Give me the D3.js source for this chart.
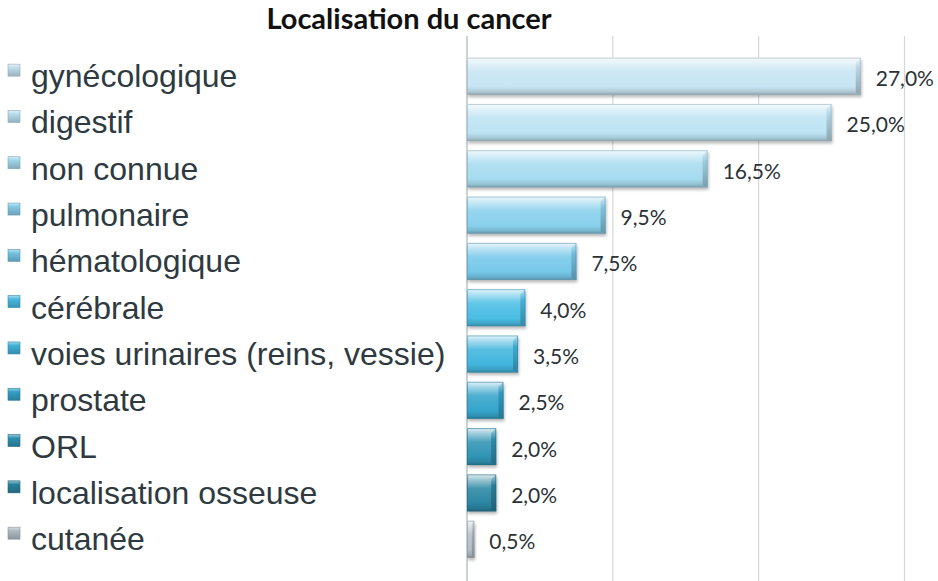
<!DOCTYPE html>
<html>
<head>
<meta charset="utf-8">
<script src="https://cdn.jsdelivr.net/npm/d3@7"></script>
<style>
  html, body { margin: 0; padding: 0; background: #ffffff; }
  svg { display: block; }
</style>
</head>
<body>
<svg id="chart" width="938" height="581"></svg>
<script>
const title = "Localisation du cancer";
const categories = [
  "gynécologique", "digestif", "non connue", "pulmonaire", "hématologique",
  "cérébrale", "voies urinaires (reins, vessie)", "prostate", "ORL",
  "localisation osseuse", "cutanée"
];
const values = [27.0, 25.0, 16.5, 9.5, 7.5, 4.0, 3.5, 2.5, 2.0, 2.0, 0.5];
const colors = [
  "#c6e5f2", "#bde3f3", "#a6dbf0", "#89d0ec", "#77c8e9",
  "#4bbde4", "#42b5de", "#35a4cb", "#3094b5", "#2b86a3", "#b4c0c8"
];
const xTicks = [0, 10, 20, 30];

const svg = d3.select("#chart");
const W = 938, H = 581;

const x = d3.scaleLinear().domain([0, 30]).range([467, 904.5]);
const y = d3.scaleBand().domain(categories).range([53, 562.3]).paddingInner(0.2).paddingOuter(0.1);
const fmt = v => d3.format(".1f")(v).replace(".", ",") + "%";

const defs = svg.append("defs");
const blur = defs.append("filter").attr("id", "shadow").attr("x", "-10%").attr("y", "-20%").attr("width", "130%").attr("height", "160%");
blur.append("feGaussianBlur").attr("stdDeviation", 1.6);

const mix = (a, b, t) => d3.interpolateRgb(a, b)(t);
categories.forEach((c, i) => {
  const base = d3.color(colors[i]);
  const g = defs.append("linearGradient").attr("id", "grad" + i)
    .attr("x1", 0).attr("y1", 0).attr("x2", 0).attr("y2", 1);
  g.append("stop").attr("offset", "0").attr("stop-color", mix(base, "#ffffff", 0.85));
  g.append("stop").attr("offset", "0.14").attr("stop-color", mix(base, "#ffffff", 0.55));
  g.append("stop").attr("offset", "0.38").attr("stop-color", mix(base, "#ffffff", 0.12));
  g.append("stop").attr("offset", "0.78").attr("stop-color", base.formatHex());
  g.append("stop").attr("offset", "0.92").attr("stop-color", base.darker(0.35).formatHex());
  g.append("stop").attr("offset", "1").attr("stop-color", base.darker(0.9).formatHex());
  const gr = defs.append("linearGradient").attr("id", "gradR" + i)
    .attr("x1", 0).attr("y1", 0).attr("x2", 0).attr("y2", 1);
  gr.append("stop").attr("offset", "0").attr("stop-color", mix(base, "#ffffff", 0.6));
  gr.append("stop").attr("offset", "0.3").attr("stop-color", base.darker(0.2).formatHex());
  gr.append("stop").attr("offset", "1").attr("stop-color", base.darker(0.9).formatHex());
  const gs = defs.append("linearGradient").attr("id", "gradS" + i)
    .attr("x1", 0).attr("y1", 0).attr("x2", 0).attr("y2", 1);
  gs.append("stop").attr("offset", "0").attr("stop-color", mix(base, "#ffffff", 0.5));
  gs.append("stop").attr("offset", "0.3").attr("stop-color", base.darker(0.1).formatHex());
  gs.append("stop").attr("offset", "1").attr("stop-color", base.darker(0.7).formatHex());
});

// gridlines
svg.append("g").selectAll("line").data(xTicks).join("line")
  .attr("x1", d => x(d)).attr("x2", d => x(d))
  .attr("y1", 36).attr("y2", H)
  .attr("stroke", d => d === 0 ? "#b9c4ca" : "#d3d8db")
  .attr("stroke-width", d => d === 0 ? 1.5 : 1.2);

// title
svg.append("text")
  .attr("x", 409).attr("y", 29)
  .attr("text-anchor", "middle")
  .attr("font-family", "Lato, 'Open Sans', sans-serif")
  .attr("font-weight", "bold")
  .attr("font-size", 29)
  .attr("fill", "#111111")
  .text(title);

// bars
const bars = svg.append("g").selectAll("g").data(categories).join("g");
bars.each(function(c, i) {
  const g = d3.select(this);
  const x0 = x(0), x1 = x(values[i]);
  const w = x1 - x0, h = y.bandwidth(), yy = y(c);
  const base = d3.color(colors[i]);
  g.append("rect").attr("x", x0 + 1).attr("y", yy + 2.5).attr("width", w).attr("height", h)
    .attr("fill", "rgba(0,0,0,0.28)").attr("filter", "url(#shadow)");
  g.append("rect").attr("x", x0).attr("y", yy).attr("width", w).attr("height", h)
    .attr("fill", `url(#grad${i})`);
  const bw = Math.min(5, w / 3);
  g.append("polygon")
    .attr("points", `${x1 - bw},${yy + bw} ${x1},${yy} ${x1},${yy + h} ${x1 - bw},${yy + h - 2}`)
    .attr("fill", `url(#gradR${i})`);
  g.append("rect").attr("x", x0 + 0.5).attr("y", yy + 0.5).attr("width", Math.max(0, w - 1)).attr("height", h - 1)
    .attr("fill", "none").attr("stroke", base.darker(0.8).formatHex()).attr("stroke-opacity", 0.55).attr("stroke-width", 1);
});

// value labels
svg.append("g").selectAll("text").data(categories).join("text")
  .attr("x", (c, i) => x(values[i]) + 15)
  .attr("y", c => y(c) + y.bandwidth() / 2 + 10)
  .attr("font-family", "Lato, 'Open Sans', sans-serif")
  .attr("font-size", 21)
  .attr("fill", "#2b3235")
  .text((c, i) => fmt(values[i]));

// category labels with squares
const leg = svg.append("g").selectAll("g").data(categories).join("g");
leg.append("rect")
  .attr("x", 8).attr("y", c => y(c) + y.bandwidth() / 2 - 12)
  .attr("width", 12).attr("height", 12)
  .attr("fill", (c, i) => `url(#gradS${i})`)
  .attr("stroke", (c, i) => d3.color(colors[i]).darker(0.8).formatHex())
  .attr("stroke-width", 0.6);
leg.append("text")
  .attr("x", 31)
  .attr("y", c => y(c) + y.bandwidth() / 2 + 11)
  .attr("font-family", "'Liberation Sans', Arial, sans-serif")
  .attr("font-size", 32)
  .attr("fill", "#2e3a3f")
  .text(c => c);
</script>
</body>
</html>
